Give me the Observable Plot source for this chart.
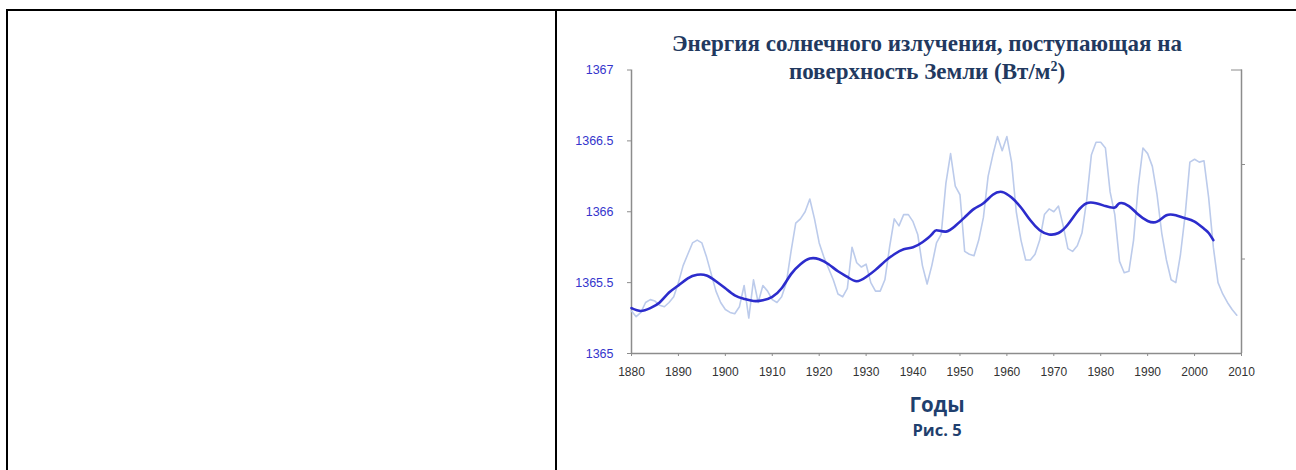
<!DOCTYPE html>
<html><head><meta charset="utf-8">
<script src="https://cdn.jsdelivr.net/npm/d3@7"></script>
<script src="https://cdn.jsdelivr.net/npm/@observablehq/plot@0.6"></script>
<style>
html,body{margin:0;padding:0;background:#fff;width:1296px;height:470px;overflow:hidden;position:relative}
.b{position:absolute;background:#000}
#chart{position:absolute;left:556px;top:50px}
.title{position:absolute;left:627px;width:600px;top:30px;text-align:center;font-family:"Liberation Serif","Times New Roman",serif;font-weight:bold;font-size:23px;color:#22395f;line-height:28px}
.title sup{font-size:14px;line-height:0;vertical-align:8px}
.xl{position:absolute;left:837px;width:200px;text-align:center;font-family:"Open Sans",sans-serif;font-weight:bold;color:#1f3f6e}
</style></head>
<body>
<div class="b" style="left:6px;top:9px;width:1290px;height:2px"></div>
<div class="b" style="left:6px;top:10px;width:2px;height:460px"></div>
<div class="b" style="left:555px;top:10px;width:2px;height:460px"></div>
<div id="chart"></div>
<div class="title">Энергия солнечного излучения, поступающая на<br>поверхность Земли (Вт/м<sup>2</sup>)</div>
<div class="xl" style="top:391px;font-size:20.5px;line-height:26px">Годы</div>
<div class="xl" style="top:420px;font-size:16.5px;line-height:20px">Рис. 5</div>
<script>
const annualYears = d3.range(1880, 2010);
const annualValues = [
 1365.30,1365.26,1365.29,1365.36,1365.38,1365.37,1365.34,1365.33,1365.36,1365.40,
 1365.50,1365.62,1365.70,1365.78,1365.80,1365.78,1365.68,1365.56,1365.44,1365.36,
 1365.31,1365.29,1365.28,1365.33,1365.48,1365.25,1365.52,1365.36,1365.48,1365.44,
 1365.38,1365.36,1365.40,1365.50,1365.72,1365.92,1365.95,1366.00,1366.09,1365.95,
 1365.78,1365.68,1365.60,1365.52,1365.42,1365.40,1365.46,1365.75,1365.64,1365.61,
 1365.63,1365.50,1365.44,1365.44,1365.52,1365.75,1365.95,1365.90,1365.98,1365.98,
 1365.93,1365.84,1365.62,1365.49,1365.62,1365.78,1365.84,1366.20,1366.41,1366.18,
 1366.12,1365.72,1365.70,1365.69,1365.80,1365.96,1366.25,1366.40,1366.53,1366.43,
 1366.53,1366.35,1366.00,1365.80,1365.66,1365.66,1365.70,1365.80,1365.98,1366.02,
 1366.00,1366.04,1365.90,1365.74,1365.72,1365.76,1365.85,1366.08,1366.40,1366.49,
 1366.49,1366.45,1366.14,1365.98,1365.65,1365.57,1365.58,1365.80,1366.18,1366.45,
 1366.41,1366.32,1366.12,1365.85,1365.66,1365.52,1365.50,1365.70,1365.98,1366.35,
 1366.37,1366.35,1366.36,1366.10,1365.75,1365.50,1365.42,1365.36,1365.31,1365.27
];
const smoothYears = [1880,1882,1884,1886,1888,1890,1892,1894,1896,1898,1900,1902,1904,1906,1908,1910,1912,1914,1916,1918,1920,1922,1924,1926,1928,1930,1932,1934,1936,1938,1940,1942,1944,1945,1947,1949,1951,1953,1955,1957,1959,1961,1963,1965,1967,1969,1971,1973,1975,1977,1979,1981,1983,1984,1986,1988,1990,1992,1994,1996,1998,2000,2002,2003,2004];
const smoothValues = [1365.32,1365.30,1365.32,1365.36,1365.43,1365.48,1365.53,1365.555,1365.55,1365.51,1365.46,1365.41,1365.385,1365.37,1365.375,1365.40,1365.46,1365.56,1365.63,1365.67,1365.665,1365.63,1365.58,1365.54,1365.51,1365.54,1365.59,1365.65,1365.70,1365.735,1365.75,1365.785,1365.84,1365.87,1365.86,1365.90,1365.96,1366.02,1366.06,1366.12,1366.14,1366.10,1366.03,1365.94,1365.87,1365.84,1365.85,1365.91,1366.00,1366.06,1366.06,1366.04,1366.03,1366.06,1366.04,1365.98,1365.935,1365.93,1365.975,1365.975,1365.955,1365.93,1365.88,1365.85,1365.80];
const yTicks = [1365, 1365.5, 1366, 1366.5, 1367];
const xTicks = [1880,1890,1900,1910,1920,1930,1940,1950,1960,1970,1980,1990,2000,2010];
const rightTicks = [1365 + 2/3, 1365 + 4/3];

const annual = annualYears.map((year, i) => ({year, value: annualValues[i]}));
const smooth = smoothYears.map((year, i) => ({year, value: smoothValues[i]}));
const axisGrey = "#8c8c8c";

const chart = Plot.plot({
  width: 700, height: 340,
  marginLeft: 75, marginRight: 15, marginTop: 19.5, marginBottom: 37,
  style: {fontFamily: "'Liberation Sans', Arial, sans-serif", fontSize: "12px", background: "transparent", overflow: "visible"},
  x: {domain: [1880, 2010]},
  y: {domain: [1365, 1367]},
  marks: [
    Plot.ruleX([1880], {stroke: axisGrey, strokeWidth: 1.5}),
    Plot.ruleX([2010], {stroke: axisGrey, strokeWidth: 1.5}),
    Plot.ruleY([1365], {stroke: axisGrey, strokeWidth: 1.5}),
    Plot.axisY({ticks: yTicks, tickFormat: d => String(d), tickSize: 4, tickPadding: 14, stroke: axisGrey, fill: "#3535cc", label: null, fontSize: 12.5}),
    Plot.axisY({anchor: "right", ticks: rightTicks, tickFormat: () => "", tickSize: 3, stroke: axisGrey, label: null}),
    Plot.axisY({anchor: "right", ticks: [1367], tickFormat: () => "", tickSize: -11, stroke: axisGrey, label: null}),
    Plot.axisX({ticks: xTicks, tickFormat: d => String(d), tickSize: 3, tickPadding: 11, stroke: axisGrey, fill: "#333", label: null}),
    Plot.line(annual, {x: "year", y: "value", stroke: "#bccbeb", strokeWidth: 1.6}),
    Plot.line(smooth, {x: "year", y: "value", stroke: "#2c2ccc", strokeWidth: 2.6, curve: "natural"})
  ]
});
document.getElementById("chart").appendChild(chart);
</script>
</body></html>
